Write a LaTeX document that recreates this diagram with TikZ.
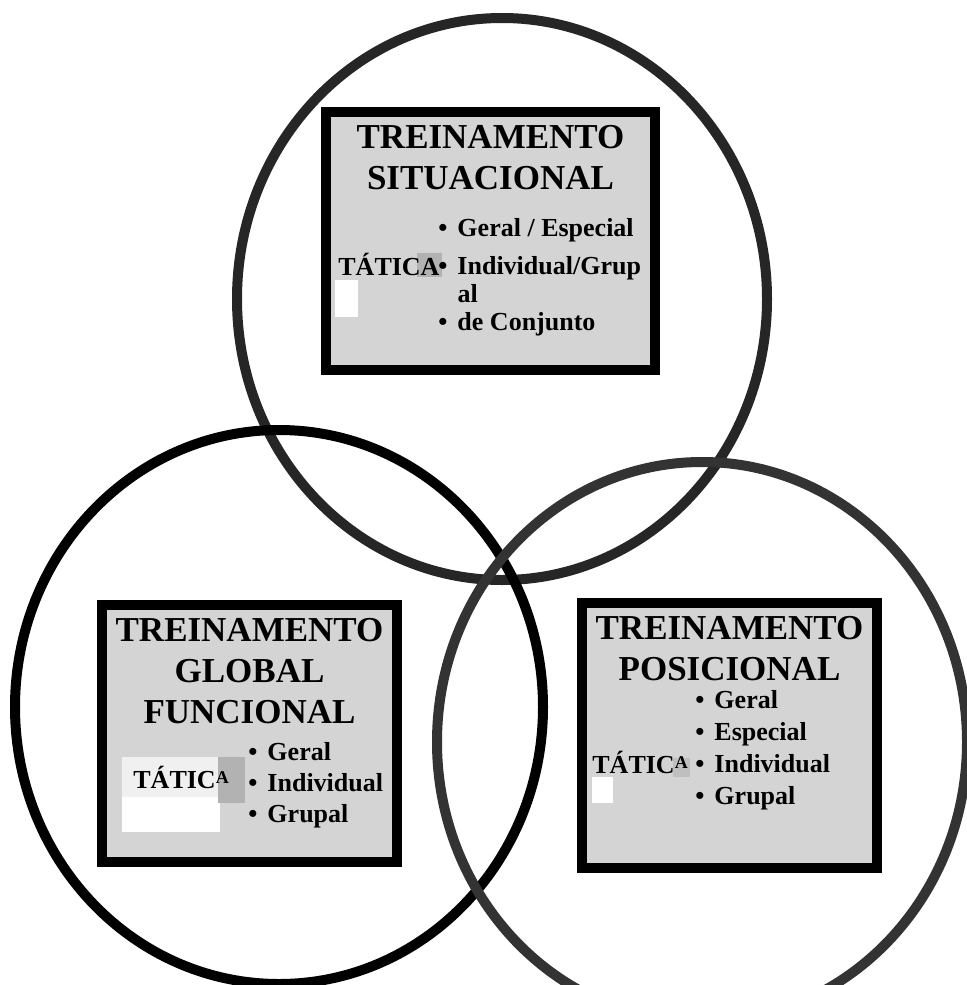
\documentclass[tikz,border=0pt]{standalone}
\usepackage{fontspec}
\setmainfont{Liberation Serif}
\usepackage{tikz}
\usetikzlibrary{positioning}
\colorlet{colorTopRing}{black!85}
\colorlet{colorLeftRing}{black}
\colorlet{colorRightRing}{black!80}
\colorlet{colorPanel}{black!17}
\tikzset{ring/.style={line width=5pt}, panel/.style={draw=black, line width=5pt, fill=colorPanel, inner sep=0pt}}
\newcommand{\blt}[1]{\textbullet\hspace{5pt}#1}
\newcommand{\smallA}{\raisebox{2.5pt}{\fontsize{9}{9}\selectfont A}}

\begin{document}
\begin{tikzpicture}[x=0.5pt, y=-0.5pt, title/.style={font=\bfseries\fontsize{17.5}{20.5}\selectfont, align=center, inner sep=0pt, anchor=north}, items/.style={font=\bfseries\fontsize{13}{#1}\selectfont, align=left, inner sep=0pt, anchor=north west}, tatica/.style={font=\bfseries\fontsize{13}{15}\selectfont, inner sep=0pt, anchor=base west}]
\useasboundingbox (0,0) rectangle (967,985);
\draw[ring, colorTopRing] (502,299) ellipse [x radius=265, y radius=281];
\draw[ring, colorLeftRing] (279,707) ellipse [x radius=264, y radius=277];
\draw[ring, colorRightRing] (702,742) ellipse [x radius=265, y radius=280];

\node[panel, minimum width=164.5pt, minimum height=129pt] (sitbox) at (490.5,241) {};
\node[title, below=9pt of sitbox.north] (sittitle) {TREINAMENTO\\SITUACIONAL};
\fill[white] (335,280) rectangle (358,317);
\fill[black!30] (417,253) rectangle (442,277);
\node[tatica] (sittatica) at (338,275) {TÁTICA};
\node[items=14pt] (sititems) at (438,218) {\blt{Geral / Especial}\\[5pt] \blt{Individual/Grup}\\ \phantom{\textbullet\hspace{5pt}}al\\ \blt{de Conjunto}};

\node[panel, minimum width=147.5pt, minimum height=128.5pt] (globbox) at (249.5,733.5) {};
\node[title, below=9pt of globbox.north] (globtitle) {TREINAMENTO\\GLOBAL\\FUNCIONAL};
\fill[black!6] (122,757) rectangle (218,797);
\fill[white] (122,797) rectangle (220,832);
\fill[black!30] (218,757) rectangle (245,803);
\node[tatica] (globtatica) at (133,788) {TÁTIC\smallA};
\node[items=15.5pt] (globitems) at (248,742) {\blt{Geral}\\ \blt{Individual}\\ \blt{Grupal}};

\node[panel, minimum width=147.5pt, minimum height=132.5pt] (posbox) at (729.5,735.5) {};
\node[title, below=9pt of posbox.north] (postitle) {TREINAMENTO\\POSICIONAL};
\fill[white] (592,777) rectangle (613,803);
\fill[black!25] (673,758) rectangle (690,777);
\node[tatica] (postatica) at (592,773) {TÁTIC\smallA};
\node[items=16pt] (positems) at (695,690) {\blt{Geral}\\ \blt{Especial}\\ \blt{Individual}\\ \blt{Grupal}};
\end{tikzpicture}
\end{document}
